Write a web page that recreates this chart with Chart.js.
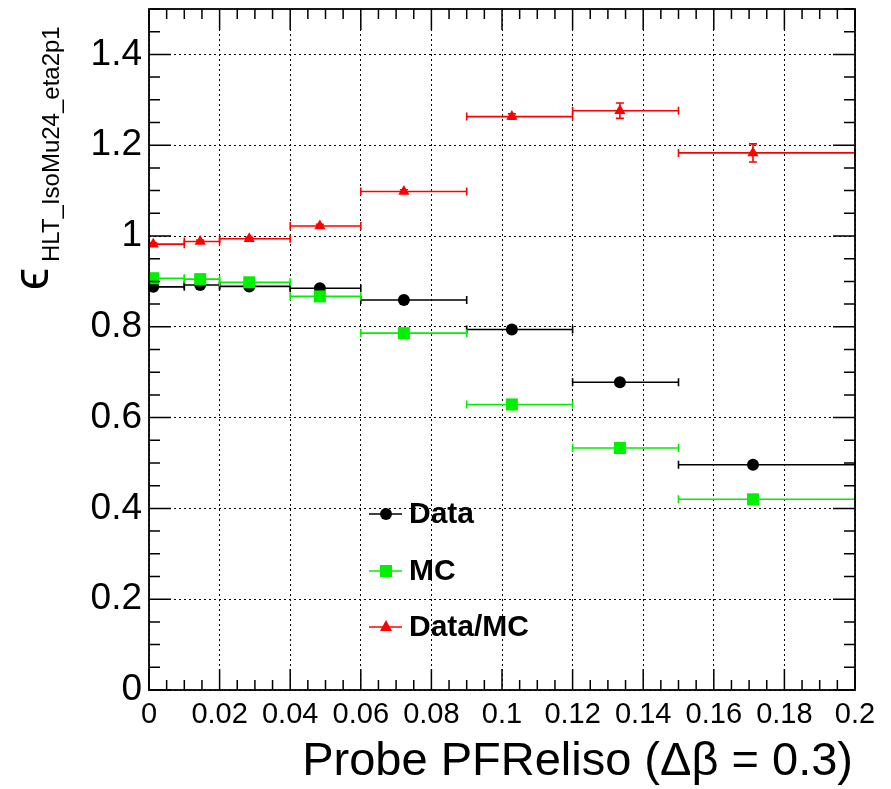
<!DOCTYPE html>
<html lang="en">
<head>
<meta charset="UTF-8">
<title>HLT IsoMu24 efficiency vs PFReliso</title>
<script src="https://cdn.jsdelivr.net/npm/chart.js"></script>
<style>
  body {
    margin: 0;
    background: #fff;
  }
  #wrap {
    width: 891px;
    height: 789px;
  }
</style>
</head>
<body>
<div id="wrap"><canvas id="effChart" width="891" height="789"></canvas></div>
<script>
// bins of probe PFReliso, and the mean x of each bin where the marker sits
const binEdges = [0, 0.01, 0.02, 0.04, 0.06, 0.09, 0.12, 0.15, 0.2];
const binMean  = [0.0012, 0.0145, 0.0284, 0.0484, 0.0722, 0.1028, 0.1334, 0.1711];

const dataEff  = [0.888, 0.892, 0.889, 0.885, 0.859, 0.794, 0.678, 0.496];
const mcEff    = [0.907, 0.905, 0.898, 0.867, 0.786, 0.629, 0.533, 0.420];
const ratioEff = [0.982, 0.988, 0.994, 1.022, 1.098, 1.263, 1.276, 1.183];
const ratioErr = [0.003, 0.003, 0.003, 0.004, 0.004, 0.006, 0.017, 0.020];

const xTicks = [0, 0.02, 0.04, 0.06, 0.08, 0.1, 0.12, 0.14, 0.16, 0.18, 0.2];
const xTickLabels = ['0', '0.02', '0.04', '0.06', '0.08', '0.1', '0.12', '0.14', '0.16', '0.18', '0.2'];
const yTicks = [0, 0.2, 0.4, 0.6, 0.8, 1, 1.2, 1.4];
const yTickLabels = ['0', '0.2', '0.4', '0.6', '0.8', '1', '1.2', '1.4'];

const seriesNames = ['Data', 'MC', 'Data/MC'];
const xTitle = 'Probe PFReliso (\u0394\u03B2 = 0.3)';
const yTitleMain = '\u03F5';
const yTitleSub = 'HLT_IsoMu24_eta2p1';

const FONT = "'Liberation Sans', Arial, sans-serif";
const BLACK = '#000000';
const GREEN = '#00f000';
const RED = '#ff0000';

function points(ys) {
  return binMean.map((x, i) => ({ x: x, y: ys[i] }));
}

function marker(ctx, style, x, y, color) {
  ctx.fillStyle = color;
  ctx.beginPath();
  if (style === 'circle') {
    ctx.arc(x, y, 6, 0, Math.PI * 2);
  } else if (style === 'rect') {
    ctx.rect(x - 6, y - 6, 12, 12);
  } else {
    ctx.moveTo(x, y - 7);
    ctx.lineTo(x + 6, y + 4);
    ctx.lineTo(x - 6, y + 4);
    ctx.closePath();
  }
  ctx.fill();
}

const rootStyle = {
  id: 'rootStyle',
  beforeDatasetsDraw(chart) {
    const ctx = chart.ctx;
    const xs = chart.scales.x, ys = chart.scales.y;
    const series = [
      { vals: dataEff, err: null, color: BLACK },
      { vals: mcEff, err: null, color: GREEN },
      { vals: ratioEff, err: ratioErr, color: RED }
    ];
    ctx.save();
    ctx.lineWidth = 1.6;
    series.forEach(s => {
      ctx.strokeStyle = s.color;
      s.vals.forEach((v, i) => {
        const x1 = xs.getPixelForValue(binEdges[i]);
        const x2 = xs.getPixelForValue(binEdges[i + 1]);
        const y = ys.getPixelForValue(v);
        ctx.beginPath();
        ctx.moveTo(x1, y); ctx.lineTo(x2, y);
        ctx.moveTo(x1, y - 4); ctx.lineTo(x1, y + 4);
        ctx.moveTo(x2, y - 4); ctx.lineTo(x2, y + 4);
        ctx.stroke();
        if (s.err && s.err[i] > 0) {
          const xm = xs.getPixelForValue(binMean[i]);
          const yLo = ys.getPixelForValue(v - s.err[i]);
          const yHi = ys.getPixelForValue(v + s.err[i]);
          ctx.beginPath();
          ctx.moveTo(xm, yLo); ctx.lineTo(xm, yHi);
          ctx.moveTo(xm - 4, yLo); ctx.lineTo(xm + 4, yLo);
          ctx.moveTo(xm - 4, yHi); ctx.lineTo(xm + 4, yHi);
          ctx.stroke();
        }
      });
    });
    ctx.restore();
  },
  afterDraw(chart) {
    const ctx = chart.ctx;
    const a = chart.chartArea;
    const xs = chart.scales.x, ys = chart.scales.y;
    ctx.save();

    // frame
    ctx.strokeStyle = BLACK;
    ctx.lineWidth = 1.8;
    ctx.strokeRect(a.left, a.top, a.right - a.left, a.bottom - a.top);

    // inward ticks on all four sides
    ctx.lineWidth = 1.5;
    ctx.beginPath();
    for (let k = 0; k <= 30; k++) {
      const y = ys.getPixelForValue(k * 0.05);
      const len = k % 4 === 0 ? 22 : 11;
      ctx.moveTo(a.left, y); ctx.lineTo(a.left + len, y);
      ctx.moveTo(a.right, y); ctx.lineTo(a.right - len, y);
    }
    for (let k = 0; k <= 40; k++) {
      const x = xs.getPixelForValue(k * 0.005);
      const len = k % 4 === 0 ? 21 : 10;
      ctx.moveTo(x, a.bottom); ctx.lineTo(x, a.bottom - len);
      ctx.moveTo(x, a.top); ctx.lineTo(x, a.top + len);
    }
    ctx.stroke();

    // legend
    const styles = ['circle', 'rect', 'triangle'];
    const colors = [BLACK, GREEN, RED];
    const rowY = [514, 571, 627];
    seriesNames.forEach((name, i) => {
      ctx.strokeStyle = colors[i];
      ctx.lineWidth = 1.6;
      ctx.beginPath();
      ctx.moveTo(369, rowY[i]); ctx.lineTo(402, rowY[i]);
      ctx.stroke();
      marker(ctx, styles[i], 386, rowY[i], colors[i]);
      ctx.fillStyle = BLACK;
      ctx.font = 'bold 30px ' + FONT;
      ctx.textAlign = 'left';
      ctx.textBaseline = 'middle';
      ctx.fillText(name, 409, rowY[i] + 1);
    });

    // x title, right aligned to the axis end
    ctx.fillStyle = BLACK;
    ctx.font = '47px ' + FONT;
    ctx.textAlign = 'right';
    ctx.textBaseline = 'alphabetic';
    ctx.fillText(xTitle, a.right - 2, 775);

    // y title, rotated, with subscript
    ctx.rotate(-Math.PI / 2);
    ctx.textAlign = 'left';
    ctx.font = '50px ' + FONT;
    ctx.fillText(yTitleMain, -290, 48);
    ctx.font = '24px ' + FONT;
    ctx.fillText(yTitleSub, -262, 59);
    ctx.restore();
  }
};

const ctx = document.getElementById('effChart').getContext('2d');
new Chart(ctx, {
  type: 'scatter',
  data: {
    datasets: [
      { label: seriesNames[0], data: points(dataEff), pointStyle: 'circle', pointRadius: 6,
        backgroundColor: BLACK, borderColor: BLACK, borderWidth: 0, order: 3 },
      { label: seriesNames[1], data: points(mcEff), pointStyle: 'rect', pointRadius: 8.5,
        backgroundColor: GREEN, borderColor: GREEN, borderWidth: 0, order: 2 },
      { label: seriesNames[2], data: points(ratioEff), pointStyle: 'triangle', pointRadius: 6.5,
        backgroundColor: RED, borderColor: RED, borderWidth: 0, order: 1 }
    ]
  },
  options: {
    responsive: false,
    animation: false,
    events: [],
    layout: { padding: { left: 0, right: 36, top: 9, bottom: 0 } },
    scales: {
      x: {
        type: 'linear',
        min: 0,
        max: 0.2,
        afterFit: s => { s.height = 99; },
        afterBuildTicks: s => { s.ticks = xTicks.map(v => ({ value: v })); },
        ticks: {
          autoSkip: false,
          maxRotation: 0,
          padding: 8,
          color: BLACK,
          font: { family: FONT, size: 29 },
          callback: (v, i) => xTickLabels[i]
        },
        grid: { color: BLACK, lineWidth: 1, drawTicks: false },
        border: { display: false, dash: [2, 3] }
      },
      y: {
        type: 'linear',
        min: 0,
        max: 1.5,
        afterFit: s => { s.width = 149; s.paddingTop = 0; s.paddingBottom = 0; },
        afterBuildTicks: s => { s.ticks = yTicks.map(v => ({ value: v })); },
        ticks: {
          autoSkip: false,
          padding: 7,
          color: BLACK,
          font: { family: FONT, size: 37 },
          callback: (v, i) => yTickLabels[i]
        },
        grid: { color: BLACK, lineWidth: 1, drawTicks: false },
        border: { display: false, dash: [2, 3] }
      }
    },
    plugins: {
      legend: { display: false },
      tooltip: { enabled: false }
    }
  },
  plugins: [rootStyle]
});
</script>
</body>
</html>
